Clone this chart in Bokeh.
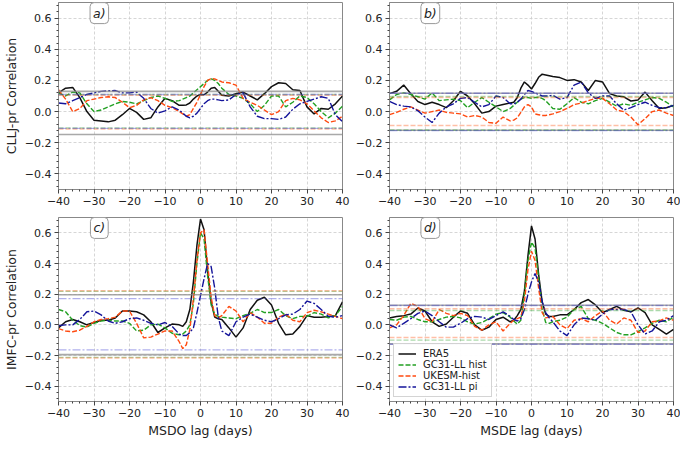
from bokeh.plotting import figure
from bokeh.models import (Span, Label, Range1d, SingleIntervalTicker,
                          CustomJSTickFormatter)
from bokeh.layouts import column, row
from bokeh.embed import file_html
from bokeh.resources import INLINE

# ---------------- data ----------------
LAGS = [-40, -38, -36, -34, -32, -30, -28, -26, -24, -22, -20, -18, -16, -14, -12, -10, -8, -6,
        -5, -4, -3, -2, -1, 0, 1, 2, 3, 4, 5,
        6, 8, 10, 12, 14, 16, 18, 20, 22, 24, 26, 28, 30, 32, 34, 36, 38, 40]

SERIES = ["ERA5", "GC31-LL hist", "UKESM-hist", "GC31-LL pi"]

# panel a) CLLJ-pr vs MSDO lag
A_ERA5 = [0.12, 0.15, 0.155, 0.09, 0.0, -0.055, -0.06, -0.066, -0.055, -0.02, 0.02, -0.005, -0.05, -0.04, 0.03, 0.085, 0.07, 0.04,
          0.04, 0.043, 0.055, 0.08, 0.1, 0.11, 0.108, 0.125, 0.15, 0.155, 0.13,
          0.105, 0.1, 0.115, 0.125, 0.1, 0.075, 0.115, 0.16, 0.185, 0.18, 0.14, 0.135, 0.03, -0.015, 0.02, 0.015, 0.05, 0.1]
A_HIST = [0.12, 0.1, 0.125, 0.12, 0.05, 0.0, 0.01, 0.03, 0.05, 0.065, 0.06, 0.05, 0.07, 0.09, 0.1, 0.085, 0.065, 0.07,
          0.08, 0.09, 0.1, 0.12, 0.14, 0.16, 0.18, 0.2, 0.21, 0.2, 0.18,
          0.15, 0.11, 0.1, 0.085, 0.05, 0.0, 0.04, 0.1, 0.1, 0.03, 0.06, 0.1, 0.09, 0.05, 0.0, -0.04, -0.01, 0.035]
A_UKESM = [0.14, 0.08, 0.0, 0.02, 0.07, 0.08, 0.09, 0.095, 0.09, 0.06, 0.025, 0.04, 0.075, 0.09, 0.07, 0.04, 0.025, 0.0,
           -0.015, -0.03, -0.02, 0.02, 0.06, 0.11, 0.16, 0.2, 0.212, 0.21, 0.2,
           0.19, 0.185, 0.17, 0.085, 0.06, 0.04, 0.01, -0.02, 0.0, 0.07, 0.085, 0.075, 0.05, 0.005, -0.04, -0.07, -0.06, -0.03]
A_PI = [0.055, 0.05, 0.07, 0.09, 0.11, 0.12, 0.13, 0.133, 0.135, 0.12, 0.12, 0.125, 0.085, 0.02, -0.01, 0.005, 0.03, 0.01,
        -0.01, -0.03, -0.04, -0.03, -0.01, 0.02, 0.05, 0.07, 0.08, 0.08, 0.075,
        0.07, 0.075, 0.11, 0.12, 0.03, -0.03, -0.045, -0.045, -0.05, -0.035, 0.015, 0.05, 0.065, 0.08, 0.095, 0.085, -0.02, -0.065]

# panel b) CLLJ-pr vs MSDE lag
B_ERA5 = [0.115, 0.13, 0.17, 0.115, 0.065, 0.045, 0.06, 0.045, 0.025, 0.07, 0.13, 0.1, 0.05, -0.01, 0.0, 0.035, 0.045, 0.055,
          0.06, 0.09, 0.15, 0.19, 0.17, 0.145, 0.18, 0.22, 0.24, 0.235, 0.23,
          0.225, 0.218, 0.2, 0.205, 0.19, 0.135, 0.2, 0.19, 0.115, 0.1, 0.095, 0.068, 0.075, 0.125, 0.07, 0.02, 0.025, 0.04]
B_HIST = [0.075, 0.11, 0.12, 0.11, 0.095, 0.08, 0.12, 0.07, 0.075, 0.08, 0.07, 0.025, 0.06, 0.09, 0.06, 0.03, 0.0, 0.02,
          0.04, 0.06, 0.08, 0.09, 0.09, 0.085, 0.09, 0.09, 0.085, 0.07, 0.045,
          0.02, 0.015, 0.05, 0.09, 0.06, 0.05, 0.07, 0.085, 0.06, 0.035, 0.05, 0.04, 0.06, 0.075, 0.09, 0.085, 0.06, 0.03]
B_UKESM = [-0.02, -0.005, 0.015, 0.03, 0.01, -0.01, 0.0, 0.01, -0.005, -0.01, -0.015, -0.035, -0.025, -0.035, -0.07, -0.075, -0.035, -0.06,
           -0.055, -0.04, -0.005, 0.03, 0.045, 0.03, -0.015, -0.02, -0.025, -0.025, -0.02,
           -0.015, 0.0, 0.02, 0.045, 0.055, 0.07, 0.085, 0.085, 0.05, 0.01, 0.0, -0.035, -0.085, -0.045, 0.0, 0.01, -0.01, -0.025]
B_PI = [0.065, 0.045, 0.035, 0.03, 0.005, -0.035, -0.07, -0.01, 0.03, 0.05, 0.085, 0.09, 0.06, 0.03, 0.045, 0.1, 0.09, 0.05,
        0.05, 0.06, 0.08, 0.11, 0.135, 0.13, 0.12, 0.11, 0.1, 0.1, 0.1,
        0.105, 0.08, 0.09, 0.17, 0.19, 0.12, 0.085, 0.1, 0.1, 0.05, 0.01, 0.025, 0.045, 0.06, 0.04, 0.025, 0.025, 0.04]

# panel c) IMFC-pr vs MSDO lag
C_ERA5 = [-0.02, 0.02, 0.035, 0.02, 0.0, 0.015, 0.03, 0.03, 0.045, 0.09, 0.09, 0.085, 0.065, 0.02, -0.05, -0.02, 0.005, 0.0,
          -0.01, 0.02, 0.1, 0.28, 0.52, 0.69, 0.62, 0.355, 0.15, 0.05, 0.04,
          0.035, -0.02, -0.08, -0.02, 0.1, 0.16, 0.18, 0.13, 0.01, -0.065, -0.06, -0.01, 0.06, 0.05, 0.05, 0.055, 0.06, 0.15]
C_HIST = [0.1, 0.085, 0.03, -0.005, -0.015, 0.01, 0.025, 0.03, 0.025, 0.025, 0.01, -0.04, -0.035, 0.0, 0.005, -0.02, -0.055, -0.065,
          -0.06, -0.04, 0.0, 0.14, 0.4, 0.6, 0.56, 0.32, 0.13, 0.07, 0.055,
          0.05, 0.045, 0.04, 0.06, 0.075, 0.1, 0.08, 0.08, 0.1, 0.06, 0.04, 0.055, 0.055, 0.08, 0.07, 0.045, 0.06, 0.12]
C_UKESM = [-0.025, -0.04, -0.045, -0.035, -0.01, 0.02, 0.035, 0.04, 0.05, 0.09, 0.09, 0.01, -0.085, -0.08, -0.06, -0.04, -0.04, -0.11,
           -0.155, -0.13, -0.03, 0.17, 0.42, 0.6, 0.62, 0.4, 0.18, 0.06, 0.045,
           0.06, 0.12, 0.09, 0.02, 0.08, 0.05, 0.01, 0.01, 0.05, 0.07, 0.03, 0.02, 0.08, 0.095, 0.085, 0.07, 0.055, 0.04]
C_PI = [-0.005, 0.0, 0.0, 0.035, 0.085, 0.09, 0.065, 0.025, 0.01, 0.02, 0.04, 0.045, 0.03, 0.01, 0.0, 0.015, -0.01, -0.06,
        -0.07, -0.07, -0.05, -0.02, 0.08, 0.19, 0.3, 0.4, 0.38, 0.24, 0.05,
        -0.04, -0.07, 0.02, 0.05, 0.07, 0.05, 0.03, 0.02, 0.04, 0.065, 0.07, 0.1, 0.155, 0.14, 0.1, 0.055, 0.05, 0.06]

# panel d) IMFC-pr vs MSDE lag
D_ERA5 = [0.045, 0.055, 0.06, 0.07, 0.11, 0.09, 0.02, -0.01, 0.005, 0.05, 0.09, 0.075, 0.0, -0.035, -0.015, 0.035, 0.05, 0.02,
          0.03, 0.06, 0.1, 0.22, 0.45, 0.645, 0.56, 0.33, 0.15, 0.07, 0.055,
          0.055, 0.065, 0.065, 0.1, 0.145, 0.165, 0.13, 0.08, 0.1, 0.12, 0.095, 0.085, 0.11, 0.08, 0.0, -0.03, -0.06, -0.03]
D_HIST = [0.035, 0.03, 0.05, 0.055, 0.035, 0.02, 0.02, 0.035, 0.05, 0.055, 0.045, 0.02, 0.005, 0.015, 0.04, 0.07, 0.08, 0.05,
          0.025, 0.005, 0.03, 0.2, 0.42, 0.54, 0.5, 0.31, 0.1, 0.015, 0.01,
          0.02, 0.03, 0.05, 0.1, 0.12, 0.04, 0.03, 0.01, -0.02, -0.05, -0.065, -0.065, -0.045, -0.02, 0.01, 0.03, 0.02, 0.05]
D_UKESM = [-0.02, 0.0, 0.06, 0.14, 0.12, 0.04, 0.02, 0.1, 0.075, 0.06, 0.075, 0.06, -0.01, -0.035, 0.0, 0.02, -0.04, 0.01,
           0.03, 0.04, 0.05, 0.15, 0.36, 0.48, 0.42, 0.24, 0.08, 0.045, 0.05,
           0.055, 0.0, -0.025, 0.03, 0.04, 0.02, 0.06, 0.09, 0.03, 0.005, 0.045, 0.03, -0.05, -0.04, 0.02, 0.025, 0.045, 0.03]
D_PI = [0.0, -0.02, 0.01, 0.04, 0.075, 0.09, 0.06, 0.02, -0.015, -0.015, 0.01, 0.04, 0.055, 0.05, 0.035, 0.06, 0.085, 0.055,
        0.035, 0.025, 0.04, 0.1, 0.2, 0.28, 0.335, 0.28, 0.15, 0.08, 0.045,
        0.02, -0.04, -0.07, 0.0, 0.045, 0.04, 0.03, 0.07, 0.1, 0.1, 0.1, 0.085, 0.0, -0.06, -0.04, 0.02, 0.03, 0.06]

# significance thresholds (upper, lower) per series
THR_A = {"ERA5": (0.13, -0.147), "GC31-LL hist": (0.11, -0.105), "UKESM-hist": (0.105, -0.112), "GC31-LL pi": (0.11, -0.108)}
THR_B = {"ERA5": (0.118, -0.12), "GC31-LL hist": (0.097, -0.118), "UKESM-hist": (0.09, -0.089), "GC31-LL pi": (0.118, -0.122)}
THR_C = {"ERA5": (0.196, -0.194), "GC31-LL hist": (0.218, -0.212), "UKESM-hist": (0.222, -0.216), "GC31-LL pi": (0.171, -0.163)}
THR_D = {"ERA5": (0.128, -0.124), "GC31-LL hist": (0.093, -0.1), "UKESM-hist": (0.105, -0.083), "GC31-LL pi": (0.126, -0.127)}

PANEL_TAGS = ["a)", "b)", "c)", "d)"]
Y_LABELS = ["CLLJ-pr Correlation", "IMFC-pr Correlation"]
X_LABELS = ["MSDO lag (days)", "MSDE lag (days)"]

# ---------------- style ----------------
FONT = "DejaVu Sans"
STYLE = {
    "ERA5": dict(color="#111111", dash="solid", width=1.5),
    "GC31-LL hist": dict(color="#23a023", dash="5 2", width=1.4),
    "UKESM-hist": dict(color="#ff4a10", dash="5 2", width=1.4),
    "GC31-LL pi": dict(color="#14149a", dash="8 2 2 2", width=1.4),
}
THR_STYLE = {
    "ERA5": dict(color="#8c8c8c", alpha=0.75, dash="solid", width=1.6),
    "GC31-LL hist": dict(color="#2ca02c", alpha=0.4, dash="5 2", width=1.4),
    "UKESM-hist": dict(color="#ff6020", alpha=0.4, dash="5 2", width=1.4),
    "GC31-LL pi": dict(color="#3a3ad0", alpha=0.4, dash="8 2 2 2", width=1.4),
}


def make_panel(tag, data, thr, ylabel=None, xlabel=None, left=True, top=True, legend=False):
    fh = 187 if top else 184
    p = figure(frame_width=284, frame_height=fh, output_backend="svg", toolbar_location=None,
               x_range=Range1d(-40, 40), y_range=Range1d(-0.5, 0.7),
               min_border_left=47 if left else 39, min_border_right=8 if left else 7,
               min_border_top=2 if top else 4, min_border_bottom=24 if top else 33)
    p.background_fill_color = "white"
    p.border_fill_color = "white"
    p.outline_line_color = "#888888"
    p.outline_line_width = 1

    p.xaxis.ticker = SingleIntervalTicker(interval=10, num_minor_ticks=5)
    p.yaxis.ticker = SingleIntervalTicker(interval=0.2, num_minor_ticks=5)
    p.xaxis.formatter = CustomJSTickFormatter(code="return Math.round(tick).toString().replace('-', '\\u2212');")
    p.yaxis.formatter = CustomJSTickFormatter(code="return tick.toFixed(1).replace('-', '\\u2212');")
    for ax in (p.xaxis[0], p.yaxis[0]):
        ax.axis_line_color = "#888888"
        ax.major_tick_line_color = "#444444"
        ax.minor_tick_line_color = "#444444"
        ax.major_tick_out = 4
        ax.major_tick_in = 0
        ax.minor_tick_out = 2
        ax.minor_tick_in = 0
        ax.major_label_text_font = FONT
        ax.major_label_text_font_size = "11px"
        ax.major_label_text_color = "#222222"
        ax.major_label_standoff = 3
        ax.axis_label_text_font = FONT
        ax.axis_label_text_font_size = "12.5px"
        ax.axis_label_text_font_style = "normal"
        ax.axis_label_text_color = "#222222"
        ax.axis_label_standoff = 3
    if ylabel:
        p.yaxis.axis_label = ylabel
    if xlabel:
        p.xaxis.axis_label = xlabel

    for g in (p.xgrid[0], p.ygrid[0]):
        g.grid_line_color = "#cccccc"
        g.grid_line_dash = "3 2"
        g.grid_line_width = 0.8

    # significance levels
    for name in SERIES:
        st = THR_STYLE[name]
        for loc in thr[name]:
            p.add_layout(Span(location=loc, dimension="width", line_color=st["color"],
                              line_alpha=st["alpha"], line_dash=st["dash"], line_width=st["width"]))

    # correlation curves
    for name, vals in zip(SERIES, data):
        st = STYLE[name]
        kw = dict(legend_label=name) if legend else {}
        p.line(LAGS, vals, line_color=st["color"], line_dash=st["dash"], line_width=st["width"], **kw)

    p.add_layout(Label(x=-28.5, y=0.632, text=tag, text_font=FONT, text_font_style="italic",
                       text_font_size="12.5px", text_color="#222222", text_align="center",
                       text_baseline="middle", background_fill_color="white",
                       border_line_color="#999999", border_line_width=1, padding=3, border_radius=4))

    if legend:
        lg = p.legend[0]
        lg.location = "bottom_left"
        lg.label_text_font = FONT
        lg.label_text_font_size = "10px"
        lg.label_text_color = "#222222"
        lg.label_text_line_height = 1.0
        lg.glyph_width = 18
        lg.glyph_height = 9
        lg.label_height = 9
        lg.label_standoff = 7
        lg.spacing = 0
        lg.padding = 4
        lg.margin = 4
        lg.border_line_color = "#aaaaaa"
        lg.background_fill_alpha = 0.95
    return p


pa = make_panel(PANEL_TAGS[0], [A_ERA5, A_HIST, A_UKESM, A_PI], THR_A, ylabel=Y_LABELS[0], left=True, top=True)
pb = make_panel(PANEL_TAGS[1], [B_ERA5, B_HIST, B_UKESM, B_PI], THR_B, left=False, top=True)
pc = make_panel(PANEL_TAGS[2], [C_ERA5, C_HIST, C_UKESM, C_PI], THR_C, ylabel=Y_LABELS[1], xlabel=X_LABELS[0], left=True, top=False)
pd = make_panel(PANEL_TAGS[3], [D_ERA5, D_HIST, D_UKESM, D_PI], THR_D, xlabel=X_LABELS[1], left=False, top=False, legend=True)

layout = column(row(pa, pb, spacing=0), row(pc, pd, spacing=0), spacing=0)

open("out.html", "w").write(file_html(layout, INLINE))
